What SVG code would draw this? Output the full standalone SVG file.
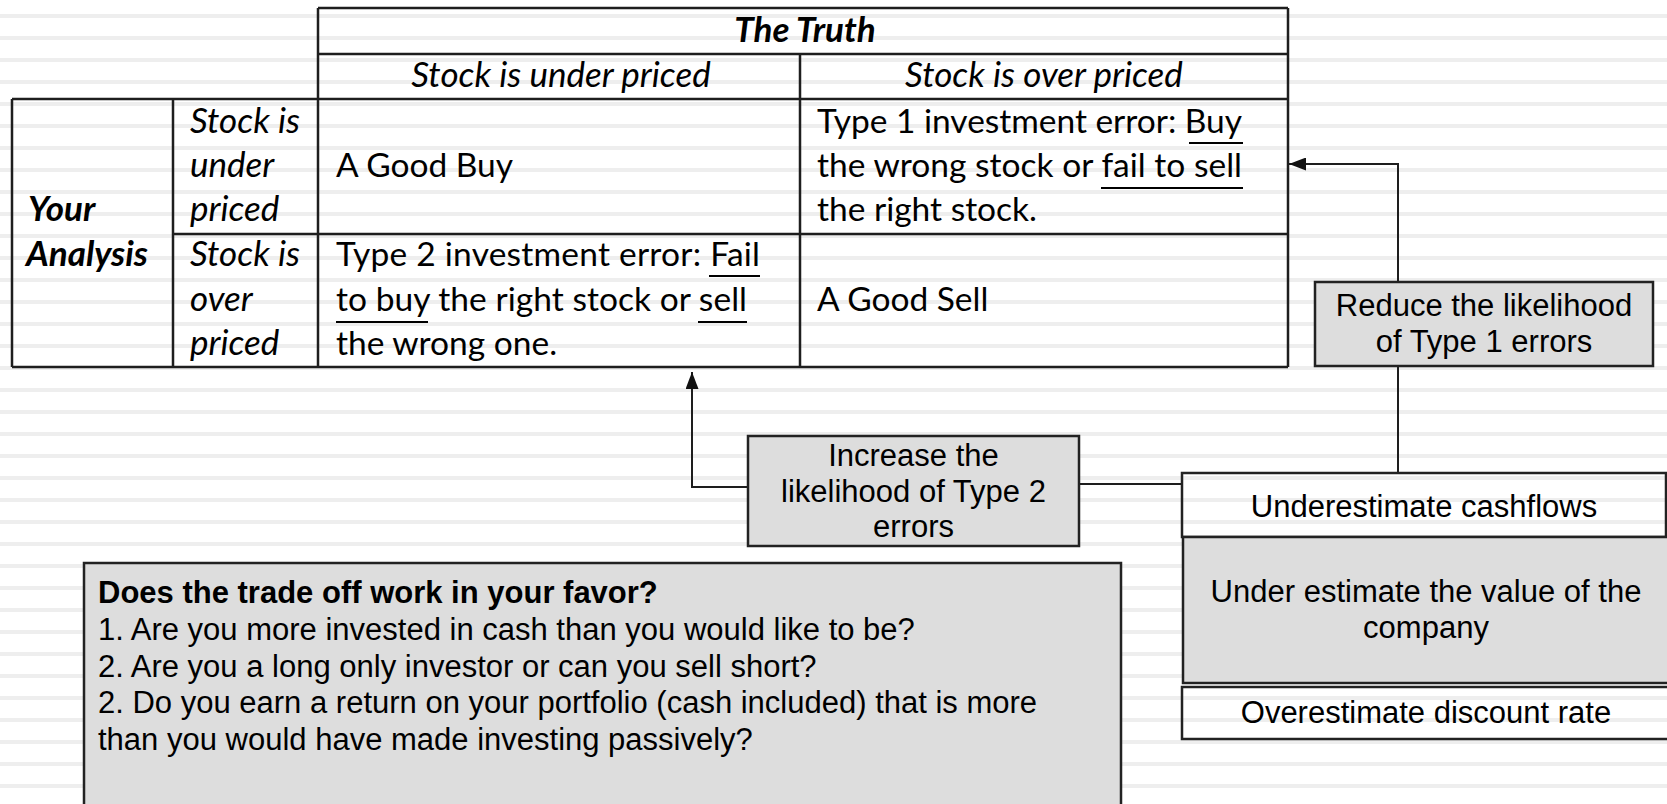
<svg xmlns="http://www.w3.org/2000/svg" width="1667" height="804" viewBox="0 0 1667 804">
  <defs>
    <pattern id="stripes" x="0" y="0" width="1667" height="22" patternUnits="userSpaceOnUse">
      <rect x="0" y="14" width="1667" height="4" fill="#eeeeee"/>
    </pattern>
    <marker id="arrow" markerUnits="userSpaceOnUse" markerWidth="17" markerHeight="13" refX="17" refY="6.5" orient="auto">
      <path d="M0,0 L17,6.5 L0,13 Z" fill="#111"/>
    </marker>
    <style>
      .tbl { font-family: Lato, "Open Sans", sans-serif; font-size: 33.5px; fill: #000; }
      .it { font-style: italic; font-size: 35px; }
      .bi { font-style: italic; font-weight: bold; font-size: 35px; }
      .hv { font-family: "Liberation Sans", Arial, sans-serif; font-size: 31px; fill: #000; }
      .hvb { font-weight: bold; }
      .grid { stroke: #1e1e1e; stroke-width: 2.5; fill: none; }
      .box { fill: #dddddd; stroke: #222; stroke-width: 2.5; }
      .open { fill: none; stroke: #222; stroke-width: 2.5; }
      .conn { stroke: #1e1e1e; stroke-width: 2; fill: none; }
      .ul { stroke: #000; stroke-width: 2; }
    </style>
  </defs>

  <!-- ruled background -->
  <rect width="1667" height="804" fill="#ffffff"/>
  <rect width="1667" height="804" fill="url(#stripes)"/>

  <!-- decision table -->
  <g id="truth-table">
    <path class="grid" d="M318,8 H1288 M318,54 H1288 M12,99 H1288 M173,234 H1288 M12,367 H1288
                          M12,99 V367 M173,99 V367 M318,8 V367 M800,54 V367 M1288,8 V367"/>
    <text class="tbl bi" x="805" y="42" text-anchor="middle">The Truth</text>
    <text class="tbl it" x="561" y="87" text-anchor="middle">Stock is under priced</text>
    <text class="tbl it" x="1044" y="87" text-anchor="middle">Stock is over priced</text>

    <text class="tbl bi" x="28" y="221">Your</text>
    <text class="tbl bi" x="26" y="266">Analysis</text>

    <text class="tbl it" x="190" y="133">Stock is</text>
    <text class="tbl it" x="190" y="177">under</text>
    <text class="tbl it" x="190" y="221">priced</text>
    <text class="tbl it" x="190" y="266">Stock is</text>
    <text class="tbl it" x="190" y="311">over</text>
    <text class="tbl it" x="190" y="355">priced</text>

    <text class="tbl" x="336" y="177">A Good Buy</text>
    <text class="tbl" x="336" y="266" textLength="424" lengthAdjust="spacing">Type 2 investment error: Fail</text>
    <text class="tbl" x="336" y="311" textLength="411" lengthAdjust="spacing">to buy the right stock or sell</text>
    <text class="tbl" x="336" y="355">the wrong one.</text>

    <text class="tbl" x="817" y="133" textLength="425" lengthAdjust="spacing">Type 1 investment error: Buy</text>
    <text class="tbl" x="817" y="177" textLength="425" lengthAdjust="spacing">the wrong stock or fail to sell</text>
    <text class="tbl" x="817" y="221">the right stock.</text>
    <text class="tbl" x="817" y="311">A Good Sell</text>

    <!-- underlined phrases -->
    <path class="ul" d="M709,276 H760 M336,322 H428 M698,322 H747 M1189,143 H1243 M1101,188 H1243"/>
  </g>

  <!-- connectors -->
  <g id="connectors">
    <path class="conn" d="M1398,282 V164 H1289" marker-end="url(#arrow)"/>
    <path class="conn" d="M748,487 H692 V372" marker-end="url(#arrow)"/>
    <path class="conn" d="M1398,366 V473"/>
    <path class="conn" d="M1182,484 H1079"/>
  </g>

  <g id="reduce-type1">
    <rect class="box" x="1315" y="282" width="338" height="84"/>
    <text class="hv" x="1484" y="316" text-anchor="middle">Reduce the likelihood</text>
    <text class="hv" x="1484" y="352" text-anchor="middle">of Type 1 errors</text>
  </g>

  <g id="increase-type2">
    <rect class="box" x="748" y="436" width="331" height="110"/>
    <text class="hv" x="913.5" y="466" text-anchor="middle">Increase the</text>
    <text class="hv" x="913.5" y="502" text-anchor="middle">likelihood of Type 2</text>
    <text class="hv" x="913.5" y="537" text-anchor="middle">errors</text>
  </g>

  <g id="trade-off">
    <rect class="box" x="84" y="563" width="1037" height="270"/>
    <text class="hv hvb" x="98" y="603">Does the trade off work in your favor?</text>
    <text class="hv" x="98" y="640">1. Are you more invested in cash than you would like to be?</text>
    <text class="hv" x="98" y="677">2. Are you a long only investor or can you sell short?</text>
    <text class="hv" x="98" y="713">2. Do you earn a return on your portfolio (cash included) that is more</text>
    <text class="hv" x="98" y="750">than you would have made investing passively?</text>
  </g>

  <g id="underestimate-cashflows">
    <rect class="open" x="1182" y="473" width="484" height="64"/>
    <text class="hv" x="1424" y="517" text-anchor="middle">Underestimate cashflows</text>
  </g>

  <g id="undervalue-company">
    <rect class="box" x="1183" y="537" width="490" height="146"/>
    <text class="hv" x="1426" y="602" text-anchor="middle">Under estimate the value of the</text>
    <text class="hv" x="1426" y="638" text-anchor="middle">company</text>
  </g>

  <g id="overestimate-discount">
    <rect class="open" x="1182" y="687" width="490" height="52"/>
    <text class="hv" x="1426" y="723" text-anchor="middle">Overestimate discount rate</text>
  </g>
</svg>
